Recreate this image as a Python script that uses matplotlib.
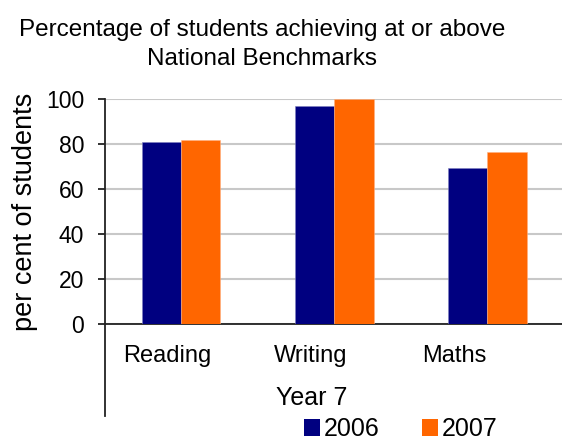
import numpy as np
import matplotlib.pyplot as plt
from matplotlib.patches import Patch

plt.rcParams['font.family'] = ['Liberation Sans', 'DejaVu Sans']

subjects = ['Reading', 'Writing', 'Maths']
years = ['2006', '2007']
pct_2006 = [81, 97, 69.5]
pct_2007 = [82, 100, 76.5]
colors = ['#000080', '#FF6600']

fig = plt.figure(figsize=(5.62, 4.42), dpi=100)
ax = fig.add_axes([0.1868, 0.267, 0.8132, 0.508])

x = np.arange(len(subjects))
w = 0.255
ax.bar(x - w / 2, pct_2006, w, color=colors[0], edgecolor='#8080c0', linewidth=0.4, zorder=3)
ax.bar(x + w / 2, pct_2007, w, color=colors[1], edgecolor='#ffb080', linewidth=0.4, zorder=3)

ax.set_xlim(-0.5, 2.487)
ax.set_ylim(0, 100)
ax.set_yticks(range(0, 101, 20))
ax.yaxis.grid(True, color='#c8c8c8', linewidth=1.5, zorder=0)
ax.set_axisbelow(True)

for s in ['top', 'right']:
    ax.spines[s].set_visible(False)
for s in ['left', 'bottom']:
    ax.spines[s].set_color('#222222')
    ax.spines[s].set_linewidth(1.3)

ax.tick_params(axis='y', direction='out', length=5, width=1.3, pad=10, labelsize=16.5, color='#222222')
# category labels sit a little left of each bar pair
ax.set_xticks([-0.09, 0.843, 1.78])
ax.set_xticklabels(subjects, fontsize=17)
ax.tick_params(axis='x', length=0, pad=15)

# y axis line carries on below the category labels
ax.plot([0, 0], [0, -0.41], transform=ax.transAxes, color='#222222', linewidth=1.3, clip_on=False)

ax.set_ylabel('per cent of students', fontsize=19.5, labelpad=6)

fig.text(0.466, 0.9, 'Percentage of students achieving at or above\nNational Benchmarks',
         ha='center', va='center', fontsize=17.5, linespacing=1.4)
fig.text(0.555, 0.0995, 'Year 7', ha='center', va='center', fontsize=18)

handles = [Patch(facecolor=c, edgecolor='none') for c in colors]
fig.legend(handles, years, loc='center', bbox_to_anchor=(0.7135, 0.029), ncol=2, frameon=False,
           fontsize=18, handlelength=0.65, handleheight=0.65, handletextpad=0.15, columnspacing=1.7,
           borderpad=0)

fig.savefig('out.png', dpi=100)
